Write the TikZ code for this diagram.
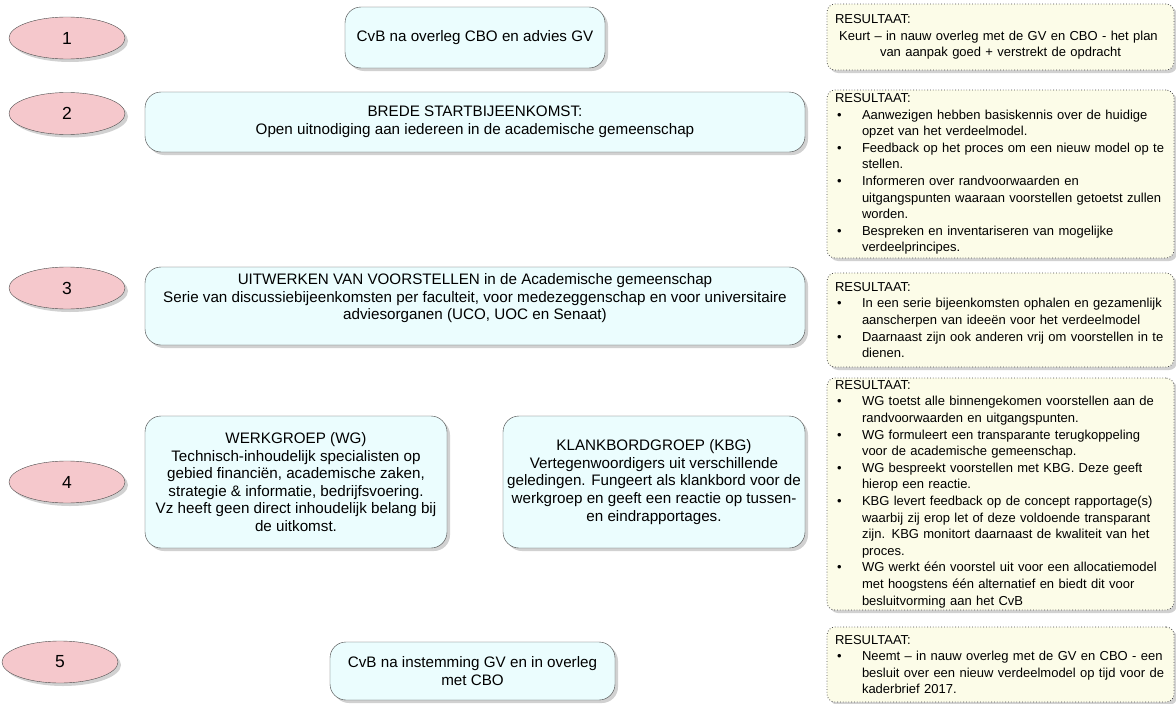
\documentclass[tikz,border=0pt]{standalone}
\usepackage{fontspec}
\setmainfont{Liberation Sans}
\usetikzlibrary{shapes.geometric,shadows,positioning}
\definecolor{numpink}{HTML}{F5C8CC}
\definecolor{phasecyan}{HTML}{EBFDFE}
\definecolor{rescream}{HTML}{FCFCE8}
\newcommand\reslabel[1]{\hspace{2pt}#1\hfil}
\newenvironment{reslist}{\begin{list}{\textbullet}{\setlength\leftmargin{27pt}\setlength\rightmargin{-14pt}%
  \setlength\labelwidth{24pt}\setlength\labelsep{3pt}\setlength\itemsep{0pt}\setlength\topsep{0pt}%
  \setlength\parsep{0pt}\setlength\partopsep{0pt}\let\makelabel\reslabel}}{\end{list}}
\tikzset{
  shade/.style   ={drop shadow={shadow xshift=3pt,shadow yshift=-3pt,fill=black!45,opacity=0.4}},
  numbox/.style  ={ellipse,draw=black!70,fill=numpink,minimum width=116pt,minimum height=42pt,inner sep=0pt,font=\fontsize{17.5}{20}\selectfont,shade},
  phasebox/.style={rectangle,rounded corners=16pt,draw=black!75,fill=phasecyan,align=center,inner sep=2pt,font=\fontsize{15.2}{17.6}\selectfont,shade},
  resbox/.style  ={rectangle,rounded corners=8pt,draw=black!70,line width=0.8pt,dotted,fill=rescream,align=left,text width=331pt,inner xsep=8pt,inner ysep=2pt,minimum width=347pt,font=\fontsize{13}{16.6}\selectfont,shade},
}

\begin{document}
\begin{tikzpicture}[x=1pt,y=-1pt]
  \useasboundingbox (0,0) rectangle (1176,704);

  \node[numbox] (n1) at (67,38)    {1};
  \node[numbox] (n2) at (67,113.5) {2};
  \node[numbox] (n3) at (67,288)   {3};
  \node[numbox] (n4) at (67,482)   {4};
  \node[numbox] (n5) at (60,662)   {5};

  \node[phasebox,minimum width=260pt,minimum height=61pt] (cvb1) at (475,37.5) {CvB na overleg CBO en advies GV};
  \node[phasebox,minimum width=660pt,minimum height=60pt] (start) at (475,122)
    {BREDE STARTBIJEENKOMST:\\Open uitnodiging aan iedereen in de academische gemeenschap};
  \node[phasebox,minimum width=660pt,minimum height=78pt,text depth=19pt] (uitwerk) at (475,306)
    {UITWERKEN VAN VOORSTELLEN in de Academische gemeenschap\\
     Serie van discussiebijeenkomsten per faculteit, voor medezeggenschap en voor universitaire\\
     adviesorganen (UCO, UOC en Senaat)};
  \node[phasebox,minimum width=302pt,minimum height=132pt] (wg) at (296,482)
    {WERKGROEP (WG)\\Technisch-inhoudelijk specialisten op\\gebied financiën, academische zaken,\\
     strategie \& informatie, bedrijfsvoering.\\Vz heeft geen direct inhoudelijk belang bij\\de uitkomst.};
  \node[phasebox,minimum width=302pt,minimum height=132pt] (kbg) at (654,482)
    {KLANKBORDGROEP (KBG)\\Vertegenwoordigers uit verschillende\\geledingen. Fungeert als klankbord voor de\\
     werkgroep en geeft een reactie op tussen-\\en eindrapportages.};
  \node[phasebox,minimum width=285pt,minimum height=58pt] (cvb5) at (472.5,671)
    {CvB na instemming GV en in overleg\\met CBO};

  \node[resbox,minimum height=66pt] (res1) at (1000.5,37) {RESULTAAT:\par
    {\centering Keurt – in nauw overleg met de GV en CBO - het plan\newline van aanpak goed + verstrekt de opdracht\par}};
  \node[resbox,minimum height=168pt] (res2) at (1000.5,174) {RESULTAAT:
    \begin{reslist}
      \item Aanwezigen hebben basiskennis over de huidige\newline opzet van het verdeelmodel.
      \item Feedback op het proces om een nieuw model op te\newline stellen.
      \item Informeren over randvoorwaarden en\newline uitgangspunten waaraan voorstellen getoetst zullen\newline worden.
      \item Bespreken en inventariseren van mogelijke\newline verdeelprincipes.
    \end{reslist}};
  \node[resbox,minimum height=94pt] (res3) at (1000.5,320) {RESULTAAT:
    \begin{reslist}
      \item In een serie bijeenkomsten ophalen en gezamenlijk\newline aanscherpen van ideeën voor het verdeelmodel
      \item Daarnaast zijn ook anderen vrij om voorstellen in te\newline dienen.
    \end{reslist}};
  \node[resbox,minimum height=232pt] (res4) at (1000.5,494) {RESULTAAT:
    \begin{reslist}
      \item WG toetst alle binnengekomen voorstellen aan de\newline randvoorwaarden en uitgangspunten.
      \item WG formuleert een transparante terugkoppeling\newline voor de academische gemeenschap.
      \item WG bespreekt voorstellen met KBG. Deze geeft\newline hierop een reactie.
      \item KBG levert feedback op de concept rapportage(s)\newline waarbij zij erop let of deze voldoende transparant\newline
            zijn. KBG monitort daarnaast de kwaliteit van het\newline proces.
      \item WG werkt één voorstel uit voor een allocatiemodel\newline met hoogstens één alternatief en biedt dit voor\newline
            besluitvorming aan het CvB
    \end{reslist}};
  \node[resbox,minimum height=75pt] (res5) at (1000.5,664.5) {RESULTAAT:
    \begin{reslist}
      \item Neemt – in nauw overleg met de GV en CBO - een\newline besluit over een nieuw verdeelmodel op tijd voor de\newline kaderbrief 2017.
    \end{reslist}};
\end{tikzpicture}
\end{document}
